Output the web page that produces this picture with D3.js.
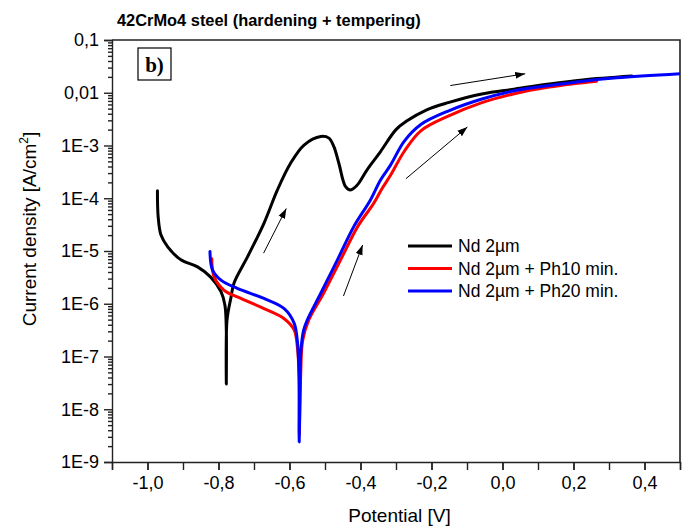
<!DOCTYPE html>
<html>
<head>
<meta charset="utf-8">
<script src="https://cdn.jsdelivr.net/npm/d3@7"></script>
<style>
  body { margin: 0; background: #fff; }
  text { font-family: Arial, "Liberation Sans", sans-serif; fill: #000; }
</style>
</head>
<body>
<svg id="chart" width="686" height="527"></svg>
<script>
// potential [V], current density [A/cm2]
const nd2 = [
  [-0.972, 1.39e-4], [-0.970, 4.5e-5], [-0.962, 2.0e-5], [-0.943, 1.2e-5],
  [-0.906, 6.8e-6], [-0.859, 5.0e-6], [-0.822, 3.2e-6], [-0.793, 1.7e-6],
  [-0.782, 9.5e-7], [-0.778, 3.2e-7], [-0.778, 3.0e-8],
  [-0.776, 4.9e-7], [-0.765, 1.3e-6], [-0.756, 2.5e-6], [-0.718, 7.8e-6],
  [-0.672, 3.35e-5], [-0.634, 1.44e-4], [-0.597, 4.6e-4], [-0.559, 1.02e-3],
  [-0.512, 1.48e-3], [-0.489, 1.38e-3], [-0.475, 9.5e-4], [-0.461, 4.6e-4],
  [-0.442, 1.66e-4], [-0.428, 1.44e-4], [-0.409, 1.78e-4], [-0.381, 3.5e-4],
  [-0.344, 7.6e-4], [-0.300, 2.0e-3], [-0.270, 2.9e-3], [-0.215, 4.7e-3],
  [-0.153, 6.5e-3], [-0.058, 9.5e-3], [0.036, 1.18e-2], [0.132, 1.47e-2],
  [0.226, 1.75e-2], [0.364, 2.07e-2]
]

const ph10 = [
  [-0.819, 7.1e-6], [-0.812, 3.2e-6], [-0.784, 1.8e-6], [-0.737, 1.26e-6],
  [-0.672, 8.1e-7], [-0.615, 5.2e-7], [-0.587, 3.2e-7], [-0.578, 1.55e-7],
  [-0.573, 4.2e-8], [-0.5725, 3.2e-9],
  [-0.5685, 4.5e-8], [-0.563, 2.0e-7], [-0.546, 4.9e-7], [-0.504, 1.58e-6],
  [-0.456, 6.8e-6], [-0.408, 2.9e-5], [-0.363, 8.0e-5], [-0.340, 1.5e-4],
  [-0.315, 2.75e-4], [-0.277, 7.7e-4], [-0.230, 1.9e-3], [-0.153, 3.6e-3],
  [-0.058, 6.5e-3], [0.036, 9.7e-3], [0.132, 1.28e-2], [0.200, 1.48e-2],
  [0.265, 1.66e-2]
]

const ph20 = [
  [-0.824, 9.8e-6], [-0.817, 4.4e-6], [-0.793, 2.8e-6], [-0.747, 1.95e-6],
  [-0.672, 1.26e-6], [-0.615, 8.1e-7], [-0.587, 4.3e-7], [-0.578, 2.0e-7],
  [-0.573, 4.2e-8], [-0.5727, 2.4e-9],
  [-0.570, 3.5e-8], [-0.5685, 1.15e-7], [-0.560, 3.2e-7], [-0.550, 4.9e-7],
  [-0.512, 1.58e-6], [-0.465, 6.8e-6], [-0.419, 2.9e-5], [-0.372, 9.3e-5],
  [-0.344, 2.2e-4], [-0.315, 4.3e-4], [-0.277, 1.2e-3], [-0.230, 2.5e-3],
  [-0.153, 4.5e-3], [-0.058, 7.6e-3], [0.036, 1.1e-2], [0.132, 1.37e-2],
  [0.226, 1.66e-2], [0.322, 1.92e-2], [0.5, 2.29e-2]
]

const seriesNames = ['Nd 2\u00b5m', 'Nd 2\u00b5m + Ph10 min.', 'Nd 2\u00b5m + Ph20 min.']
const seriesColors = ['#000000', '#ff0000', '#0000ff']

const xTicks = [-1.0, -0.8, -0.6, -0.4, -0.2, 0.0, 0.2, 0.4]
const yTicks = [1e-1, 1e-2, 1e-3, 1e-4, 1e-5, 1e-6, 1e-7, 1e-8, 1e-9]
const yTickLabels = ['0,1', '0,01', '1E-3', '1E-4', '1E-5', '1E-6', '1E-7', '1E-8', '1E-9']

// arrows: [from, to] in data space
const arrows = [
  [[-0.673, 9.1e-6], [-0.609, 6.4e-5]],
  [[-0.448, 1.4e-6], [-0.394, 1.3e-5]],
  [[-0.272, 2.35e-4], [-0.099, 2.24e-3]],
  [[-0.147, 1.37e-2], [0.064, 2.29e-2]]
]

const margin = {top: 40, right: 6, bottom: 65, left: 112}
const width = 686 - margin.left - margin.right
const height = 527 - margin.top - margin.bottom

const svg = d3.select('#chart')

const x = d3.scaleLinear().domain([-1.1, 0.5]).range([0, width])
const y = d3.scaleLog().domain([1e-9, 1e-1]).range([height, 0])

const g = svg.append('g')
    .attr('transform', `translate(${margin.left},${margin.top})`)

svg.append('text')
    .attr('x', 117)
    .attr('y', 26)
    .style('font-size', '16.4px')
    .style('font-weight', 'bold')
    .text('42CrMo4 steel (hardening + tempering)')

// minor ticks
const xMinor = d3.range(-1.1, 0.51, 0.1).map(v => +v.toFixed(2))
g.append('g')
    .attr('transform', `translate(0,${height})`)
    .call(d3.axisBottom(x).tickValues(xMinor).tickSize(8).tickFormat(''))
    .call(a => a.select('.domain').remove())

const yMinor = []
for (let e = -9; e < -1; e++)
    for (let m = 2; m < 10; m++) yMinor.push(m * Math.pow(10, e))
g.append('g')
    .call(d3.axisLeft(y).tickValues(yMinor).tickSize(4).tickFormat(''))
    .call(a => a.select('.domain').remove())

const xAxis = g.append('g')
    .attr('transform', `translate(0,${height})`)
    .call(d3.axisBottom(x).tickValues(xTicks).tickSize(8).tickPadding(6)
        .tickFormat(d => d3.format('.1f')(d).replace('.', ',').replace('−', '-')))

const yAxis = g.append('g')
    .call(d3.axisLeft(y).tickValues(yTicks).tickSize(8).tickPadding(5)
        .tickFormat((d, i) => yTickLabels[i]))

g.selectAll('.tick text').style('font-size', '18px').style('font-family', 'Arial, "Liberation Sans", sans-serif')
g.selectAll('.tick line, .domain').attr('stroke', '#222').attr('stroke-width', 1.4)

// frame top/right
g.append('path')
    .attr('d', `M0,0H${width}V${height}`)
    .attr('fill', 'none')
    .attr('stroke', '#222')
    .attr('stroke-width', 1.6)

const line = d3.line()
    .x(d => x(d[0]))
    .y(d => y(d[1]))
    .curve(d3.curveCatmullRom.alpha(0.5))

const clip = g.append('clipPath').attr('id', 'clip')
clip.append('rect').attr('width', width).attr('height', height)

const plot = g.append('g').attr('clip-path', 'url(#clip)')
;[nd2, ph10, ph20].forEach((s, i) => {
    plot.append('path')
        .attr('d', line(s))
        .attr('fill', 'none')
        .attr('stroke', seriesColors[i])
        .attr('stroke-width', 3)
        .attr('stroke-linejoin', 'round')
        .attr('stroke-linecap', 'round')
})

// arrows
svg.append('defs').append('marker')
    .attr('id', 'head')
    .attr('viewBox', '0 0 10 10')
    .attr('refX', 10).attr('refY', 5)
    .attr('markerWidth', 10).attr('markerHeight', 10)
    .attr('markerUnits', 'userSpaceOnUse')
    .attr('orient', 'auto')
    .append('path')
    .attr('d', 'M0,1.5L10,5L0,8.5Z')
    .attr('fill', '#000')

g.selectAll('.arrow')
    .data(arrows)
    .join('line')
    .classed('arrow', true)
    .attr('x1', d => x(d[0][0])).attr('y1', d => y(d[0][1]))
    .attr('x2', d => x(d[1][0])).attr('y2', d => y(d[1][1]))
    .attr('stroke', '#000')
    .attr('stroke-width', 1)
    .attr('marker-end', 'url(#head)')

// b) label
g.append('rect')
    .attr('x', 26).attr('y', 8)
    .attr('width', 33).attr('height', 32)
    .attr('fill', '#fff')
    .attr('stroke', '#000')
    .attr('stroke-width', 1.2)
g.append('text')
    .attr('x', 42.5).attr('y', 32)
    .attr('text-anchor', 'middle')
    .style('font-family', '"Liberation Serif", "Times New Roman", serif')
    .style('font-weight', 'bold')
    .style('font-size', '21px')
    .text('b)')

// legend
const legend = g.append('g')
    .attr('transform', 'translate(296,206)')
seriesNames.forEach((n, i) => {
    const row = legend.append('g').attr('transform', `translate(0,${i * 22.5})`)
    row.append('line')
        .attr('x1', 0).attr('x2', 44)
        .attr('stroke', seriesColors[i])
        .attr('stroke-width', 3)
    row.append('text')
        .attr('x', 50).attr('y', 6)
        .style('font-size', '17.5px')
        .text(n)
})

// axis titles
svg.append('text')
    .attr('x', margin.left + x(-0.29)).attr('y', 522)
    .attr('text-anchor', 'middle')
    .style('font-size', '19px')
    .text('Potential [V]')

const yt = svg.append('text')
    .attr('transform', 'translate(36,229) rotate(-90)')
    .attr('text-anchor', 'middle')
    .style('font-size', '19px')
yt.append('tspan').text('Current density [A/cm')
yt.append('tspan').attr('dy', -8).style('font-size', '12px').text('2')
yt.append('tspan').attr('dy', 8).text(']')
</script>
</body>
</html>
